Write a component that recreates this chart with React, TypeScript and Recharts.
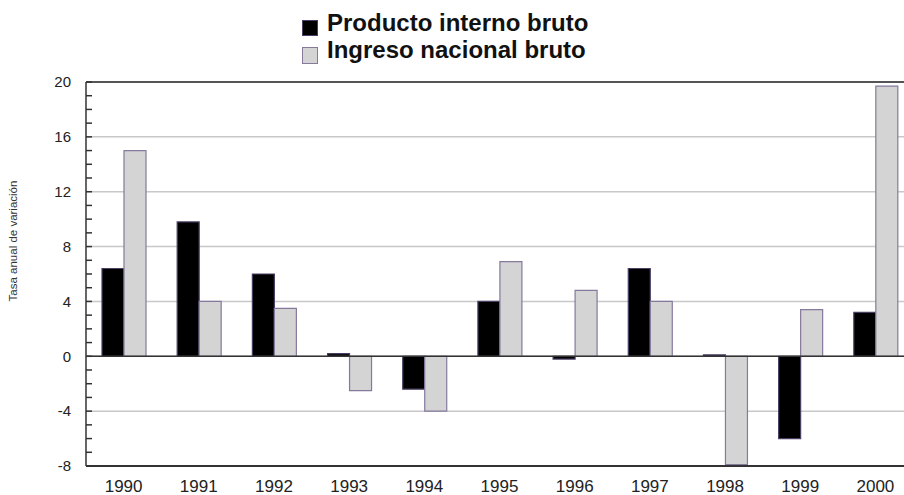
import React from 'react';
import { BarChart, Bar, XAxis, YAxis, CartesianGrid, ReferenceLine, Legend } from 'recharts';

const years = ['1990', '1991', '1992', '1993', '1994', '1995', '1996', '1997', '1998', '1999', '2000'];
const pib = [6.4, 9.8, 6.0, 0.2, -2.4, 4.0, -0.2, 6.4, 0.1, -6.0, 3.2];
const inb = [15.0, 4.0, 3.5, -2.5, -4.0, 6.9, 4.8, 4.0, -7.9, 3.4, 19.7];
const majorTicks = [-8, -4, 0, 4, 8, 12, 16, 20];
const minorTicks = [-8, -7, -6, -5, -4, -3, -2, -1, 0, 1, 2, 3, 4, 5, 6, 7, 8, 9, 10, 11, 12, 13, 14, 15, 16, 17, 18, 19, 20];
const seriesNames = ['Producto interno bruto', 'Ingreso nacional bruto'];
const yLabel = 'Tasa anual de variación';

const data = years.map((y, i) => ({ year: y, pib: pib[i], inb: inb[i] }));

const FONT = '"Liberation Sans", Arial, Helvetica, sans-serif';

const LegendContent = () => (
  <div style={{ position: 'relative', width: 904, height: 70, fontFamily: FONT }}>
    <div style={{ position: 'absolute', left: 302, top: 20, width: 14, height: 14, background: '#000', border: '1.5px solid #4a3f63' }} />
    <div style={{ position: 'absolute', left: 327, top: 9, fontSize: 24, fontWeight: 'bold', lineHeight: '27px', color: '#111', whiteSpace: 'nowrap' }}>{seriesNames[0]}</div>
    <div style={{ position: 'absolute', left: 302, top: 47, width: 14, height: 15, background: '#d4d4d4', border: '1.5px solid #85799c' }} />
    <div style={{ position: 'absolute', left: 327, top: 36, fontSize: 24, fontWeight: 'bold', lineHeight: '27px', color: '#111', whiteSpace: 'nowrap' }}>{seriesNames[1]}</div>
  </div>
);

const YLabel = (props: any) => {
  const vb = props.viewBox || { x: 0, y: 0, width: 0, height: 0 };
  const x = vb.x + 17;
  const y = vb.y + vb.height / 2 - 33;
  return (
    <text x={x} y={y} transform={`rotate(-90, ${x}, ${y})`} textAnchor="middle" fontSize={11.5} fill="#333" fontFamily={FONT}>
      {yLabel}
    </text>
  );
};

const fmtY = (v: number) => (majorTicks.includes(v) ? String(v) : '');

export default function App() {
  return (
    <div style={{ position: 'absolute', left: 0, top: 0, width: 904, height: 495, overflow: 'hidden', background: '#fff' }}>
      <BarChart
        width={920}
        height={495}
        data={data}
        margin={{ top: 82, right: 7, bottom: 0, left: 0 }}
        barGap={0}
        barSize={22}
      >
        <CartesianGrid vertical={false} horizontalValues={majorTicks} stroke="#c8c8c8" strokeWidth={1.5} />
        <XAxis
          dataKey="year"
          height={29}
          interval={0}
          tickLine={false}
          tickSize={0}
          tickMargin={14}
          axisLine={{ stroke: '#333', strokeWidth: 2 }}
          tick={{ fontSize: 17, fill: '#222', fontFamily: FONT }}
        />
        <YAxis
          domain={[-8, 20]}
          ticks={minorTicks}
          interval={0}
          width={86}
          tickSize={-6}
          tickMargin={21}
          tickFormatter={fmtY}
          axisLine={{ stroke: '#333', strokeWidth: 1.5 }}
          tickLine={{ stroke: '#333', strokeWidth: 1.5 }}
          tick={{ fontSize: 15, fill: '#222', fontFamily: FONT }}
          label={<YLabel />}
        />
        <Legend
          layout="vertical"
          align="center"
          verticalAlign="middle"
          wrapperStyle={{ top: 0, left: 0, width: 904, height: 70 }}
          content={<LegendContent />}
        />
        <Bar dataKey="pib" name={seriesNames[0]} fill="#000" stroke="#4a3f63" strokeWidth={1.2} isAnimationActive={false} />
        <Bar dataKey="inb" name={seriesNames[1]} fill="#d4d4d4" stroke="#85799c" strokeWidth={1.2} isAnimationActive={false} />
        <ReferenceLine y={0} stroke="#333" strokeWidth={1.5} />
        <ReferenceLine y={20} stroke="#555" strokeWidth={2} />
      </BarChart>
    </div>
  );
}
